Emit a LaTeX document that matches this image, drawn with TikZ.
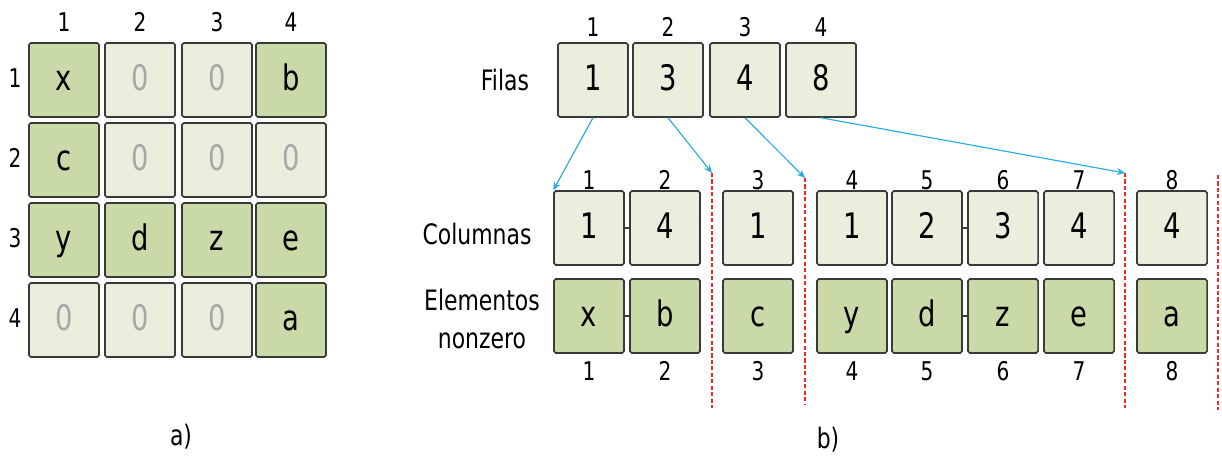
\documentclass[tikz,border=0pt]{standalone}
\usepackage{fontspec}
\setmainfont{DejaVu Sans}[FakeStretch=0.78]
\usetikzlibrary{arrows.meta}
\definecolor{pale}{HTML}{EAEEDC}
\definecolor{leaf}{HTML}{CAD9A8}
\definecolor{zerogray}{HTML}{A8A8A8}
\definecolor{linkblue}{HTML}{2AACE2}
\definecolor{cutred}{HTML}{F22828}
\definecolor{edge}{HTML}{3A3A3A}
\tikzset{
  box/.style={draw=edge, line width=1.3pt, rounded corners=1.5pt,
    minimum width=2.1cm, minimum height=2.22cm, inner sep=0pt,
    text height=22pt, text depth=4pt, font=\fontsize{30}{34}\selectfont},
  empty/.style={box, fill=pale},
  full/.style={box, fill=leaf},
  nil/.style={empty, text=zerogray},
  idx/.style={font=\fontsize{22}{26}\selectfont},
  rowname/.style={font=\fontsize{24}{32}\selectfont, align=center},
  tick/.style={draw=edge, line width=1pt},
  cut/.style={draw=cutred, line width=1.7pt, dash pattern=on 3.5pt off 2pt},
  link/.style={draw=linkblue, line width=1pt, -{Stealth[length=7pt,width=6pt]}}
}
\begin{document}
\begin{tikzpicture}[x=0.03cm, y=-0.03cm]
  \useasboundingbox (0,0) rectangle (1222,456);
  % a) the matrix
  \node[idx] (k1) at (64,22) {1};
  \node[idx] (k2) at (140,22) {2};
  \node[idx] (k3) at (217,22) {3};
  \node[idx] (k4) at (291,22) {4};
  \node[idx] (r1) at (15,78) {1};
  \node[idx] (r2) at (15,158) {2};
  \node[idx] (r3) at (15,238) {3};
  \node[idx] (r4) at (15,318) {4};
  \node[full] (m11) at (64,80) {x};
  \node[nil]  (m12) at (140,80) {0};
  \node[nil]  (m13) at (217,80) {0};
  \node[full] (m14) at (291,80) {b};
  \node[full] (m21) at (64,160) {c};
  \node[nil]  (m22) at (140,160) {0};
  \node[nil]  (m23) at (217,160) {0};
  \node[nil]  (m24) at (291,160) {0};
  \node[full] (m31) at (64,240) {y};
  \node[full] (m32) at (140,240) {d};
  \node[full] (m33) at (217,240) {z};
  \node[full] (m34) at (291,240) {e};
  \node[nil]  (m41) at (64,320) {0};
  \node[nil]  (m42) at (140,320) {0};
  \node[nil]  (m43) at (217,320) {0};
  \node[full] (m44) at (291,320) {a};
  \node[rowname] (capa) at (181,437) {a)};
  % b) rows
  \node[rowname] (filas) at (505,80) {Filas};
  \node[idx] (fk1) at (593,27) {1};
  \node[idx] (fk2) at (668,27) {2};
  \node[idx] (fk3) at (745,27) {3};
  \node[idx] (fk4) at (821,27) {4};
  \node[empty] (f1) at (593,80) {1};
  \node[empty] (f2) at (668,80) {3};
  \node[empty] (f3) at (745,80) {4};
  \node[empty] (f4) at (821,80) {8};
  % b) columns and values
  \node[rowname] (cols) at (477,234) {Columnas};
  \node[rowname] (vals) at (482,319) {Elementos\\nonzero};
  \node[idx] (ck1) at (589,180) {1};
  \node[idx] (ck2) at (665,180) {2};
  \node[idx] (ck3) at (758,180) {3};
  \node[idx] (ck4) at (852,180) {4};
  \node[idx] (ck5) at (927,180) {5};
  \node[idx] (ck6) at (1003,180) {6};
  \node[idx] (ck7) at (1079,180) {7};
  \node[idx] (ck8) at (1172,180) {8};
  \node[empty] (c1) at (589,228) {1};
  \node[empty] (c2) at (665,228) {4};
  \node[empty] (c3) at (758,228) {1};
  \node[empty] (c4) at (852,228) {1};
  \node[empty] (c5) at (927,228) {2};
  \node[empty] (c6) at (1003,228) {3};
  \node[empty] (c7) at (1079,228) {4};
  \node[empty] (c8) at (1172,228) {4};
  \node[full] (e1) at (589,316) {x};
  \node[full] (e2) at (665,316) {b};
  \node[full] (e3) at (758,316) {c};
  \node[full] (e4) at (852,316) {y};
  \node[full] (e5) at (927,316) {d};
  \node[full] (e6) at (1003,316) {z};
  \node[full] (e7) at (1079,316) {e};
  \node[full] (e8) at (1172,316) {a};
  \node[idx] (ek1) at (589,371) {1};
  \node[idx] (ek2) at (665,371) {2};
  \node[idx] (ek3) at (758,371) {3};
  \node[idx] (ek4) at (852,371) {4};
  \node[idx] (ek5) at (927,371) {5};
  \node[idx] (ek6) at (1003,371) {6};
  \node[idx] (ek7) at (1079,371) {7};
  \node[idx] (ek8) at (1172,371) {8};
  \node[rowname] (capb) at (828,440) {b)};
  \begin{scope}[tick]
    \draw (c1) -- (c2);
    \draw (e1) -- (e2);
    \draw (c5) -- (c6);
    \draw (e5) -- (e6);
  \end{scope}
  % row separators
  \coordinate (t1) at (712,173);
  \coordinate (b1) at (712,408);
  \coordinate (t2) at (805,178);
  \coordinate (b2) at (805,404);
  \coordinate (t3) at (1125,173);
  \coordinate (b3) at (1125,408);
  \coordinate (t4) at (1218,175);
  \coordinate (b4) at (1218,410);
  \begin{scope}[cut]
    \draw (t1) -- (b1);
    \draw (t2) -- (b2);
    \draw (t3) -- (b3);
    \draw (t4) -- (b4);
  \end{scope}
  \begin{scope}[link]
    \draw (f1.south) -- (c1.north west);
    \draw (f2.south) -- (t1);
    \draw (f3.south) -- (t2);
    \draw (f4.south) -- (t3);
  \end{scope}
\end{tikzpicture}
\end{document}
